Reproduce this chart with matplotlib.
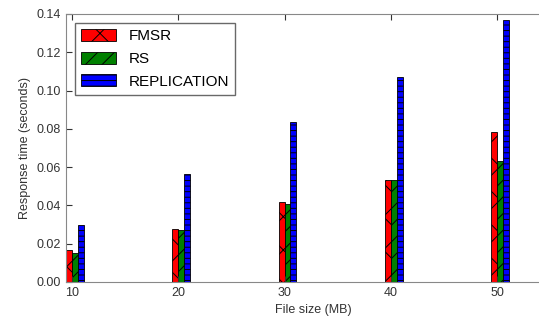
import matplotlib
matplotlib.use("Agg")
import matplotlib.pyplot as plt
import numpy as np

plt.rcParams['font.family'] = ['Liberation Sans', 'DejaVu Sans']
plt.rcParams['hatch.linewidth'] = 0.7

file_sizes = [10, 20, 30, 40, 50]
fmsr = [0.0165, 0.0275, 0.0416, 0.0533, 0.0782]
rs = [0.0150, 0.0272, 0.0407, 0.0533, 0.0632]
replication = [0.0298, 0.0562, 0.0837, 0.1070, 0.1370]

w = 0.56
x = np.array(file_sizes, dtype=float)

fig = plt.figure(figsize=(5.39, 3.2), dpi=100)
ax = fig.add_axes([66/539, (320-282)/320, (560-66)/539, (282-14)/320])

ax.bar(x - w, fmsr, w, align='edge', color='red', edgecolor='black', linewidth=0.6, hatch='x', label='FMSR')
ax.bar(x, rs, w, align='edge', color='green', edgecolor='black', linewidth=0.6, hatch='//', label='RS')
ax.bar(x + w, replication, w, align='edge', color='blue', edgecolor='black', linewidth=0.6, hatch='---', label='REPLICATION')

ax.set_xlim(10 - w, 10 + (560 - 71) / 10.65)
ax.set_ylim(0, 0.14)
ax.set_xticks(file_sizes)
ax.set_yticks(np.arange(0, 0.141, 0.02))
ax.set_yticklabels(['%.2f' % v for v in np.arange(0, 0.141, 0.02)])
ax.tick_params(direction='in', top=True, right=True, labelsize=9, colors='#333333', length=4)
for s in ax.spines.values():
    s.set_color('#888888')
ax.set_xlabel('File size (MB)', fontsize=9, color='#333333')
ax.set_ylabel('Response time (seconds)', fontsize=9, color='#333333')

leg = ax.legend(loc='upper left', fontsize=11, fancybox=False, handlelength=2.3,
                borderaxespad=0.6, labelspacing=0.55, handleheight=0.8)
leg.get_frame().set_edgecolor('#444444')

fig.savefig('out.png', dpi=100)
